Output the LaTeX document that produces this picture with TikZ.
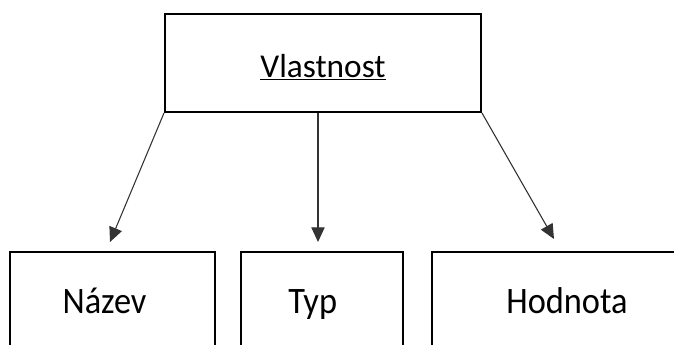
\documentclass[tikz,border=0pt]{standalone}
\usepackage{fontspec}
\setmainfont{Carlito}
\newfontfamily\boxfont[FakeStretch=0.92]{Carlito}
\usetikzlibrary{arrows.meta}
\begin{document}
\begin{tikzpicture}[
				x=0.75pt, y=-0.75pt,
				box/.style={rectangle, draw=black, line width=1.5pt, inner sep=0pt, text depth=0pt},
				boxlabel/.style={font=\boxfont\fontsize{28}{33}\selectfont, text height=19.5pt},
				link/.style={draw=black!80, line width=0.8pt, -{Triangle[length=11pt, width=10pt]}}
				]
			\clip (0,0) rectangle (674,344);
			\node [box, minimum width=237pt, minimum height=73.5pt, text height=21pt,
				font=\fontsize{25}{30}\selectfont] (prop) at (323,63) {\underline{Vlastnost}};
			\node [box, boxlabel, minimum width=153.75pt, minimum height=72pt] (nazev) at (112.5,300) {Název\hspace*{12pt}};
			\node [box, boxlabel, minimum width=121.5pt, minimum height=72pt] (typ) at (322,300) {Typ\hspace*{14pt}};
			\node [box, boxlabel, minimum width=202.5pt, minimum height=72pt] (hodnota) at (567,300) {Hodnota};
			% arrow ends above the boxes
			\coordinate (nazevtip) at (110,242);
			\coordinate (typtip) at (318,242);
			\coordinate (hodnotatip) at (554,239);
			\draw [link] (prop.south west) -- (nazevtip);
			\draw [link] (prop.south -| typtip) -- (typtip);
			\draw [link] (prop.south east) -- (hodnotatip);
			\end{tikzpicture}
\end{document}
